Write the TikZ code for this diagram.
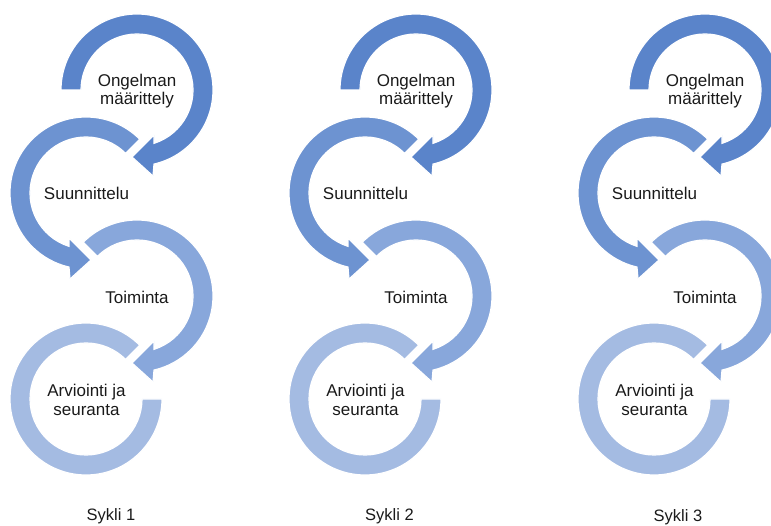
\documentclass[tikz,border=0pt]{standalone}
\usepackage{fontspec}
\setmainfont{Liberation Sans}
\definecolor{cA}{HTML}{5A84CA}
\definecolor{cB}{HTML}{6D93D1}
\definecolor{cC}{HTML}{88A7DB}
\definecolor{cD}{HTML}{A4BBE2}
\definecolor{txt}{HTML}{1A1A1A}
\begin{document}
\begin{tikzpicture}[x=1pt,y=1pt,
  ring/.style={draw=white,line width=1.2pt,line join=miter},
  lbl/.style={font=\fontsize{17}{18.7}\selectfont,align=center,text=txt,inner sep=0pt},
  caplbl/.style={font=\fontsize{16.5}{19}\selectfont,text=txt,inner sep=0pt,anchor=base}]
\useasboundingbox (0,0) rectangle (771,525);
\clip (0,0) rectangle (771,525);
\foreach \c/\dx in {1/0,2/279,3/568}{
  % circle 4: plain ring, no arrowhead
  \begin{scope}[shift={(\dx+86,126)}]
    \filldraw[ring,fill=cD] (45:76) arc[start angle=45,end angle=360,radius=76]
      -- (0:56) arc[start angle=360,end angle=45,radius=56] -- cycle;
  \end{scope}
  % circle 3: clockwise from 135
  \begin{scope}[shift={(\dx+137,229)}]
    \filldraw[ring,fill=cC] (135:76) arc[start angle=135,end angle=-77.07,radius=76]
      -- (16,-86) -- (-5,-67) -- (17,-45)
      -- (-72.33:56) arc[start angle=-72.33,end angle=135,radius=56] -- cycle;
  \end{scope}
  % circle 2: counterclockwise from 45
  \begin{scope}[shift={(\dx+86,332)}]
    \filldraw[ring,fill=cB] (45:76) arc[start angle=45,end angle=257.07,radius=76]
      -- (-16,-86) -- (5,-67) -- (-17,-45)
      -- (252.33:56) arc[start angle=252.33,end angle=45,radius=56] -- cycle;
  \end{scope}
  % circle 1: clockwise from 180
  \begin{scope}[shift={(\dx+137,435)}]
    \filldraw[ring,fill=cA] (180:76) arc[start angle=180,end angle=-77.07,radius=76]
      -- (16,-86) -- (-5,-67) -- (17,-45)
      -- (-72.33:56) arc[start angle=-72.33,end angle=180,radius=56] -- cycle;
  \end{scope}
  \node[lbl] (ong\c) at (\dx+137,434) {Ongelman\\määrittely};
  \node[lbl] (suu\c) at (\dx+86.5,332) {Suunnittelu};
  \node[lbl] (toi\c) at (\dx+137,228) {Toiminta};
  \node[lbl] (arv\c) at (\dx+86.5,125) {Arviointi ja\\seuranta};
}
\node[caplbl] (s1) at (111,5) {Sykli 1};
\node[caplbl] (s2) at (389.5,5) {Sykli 2};
\node[caplbl] (s3) at (678,4) {Sykli 3};
\end{tikzpicture}
\end{document}
